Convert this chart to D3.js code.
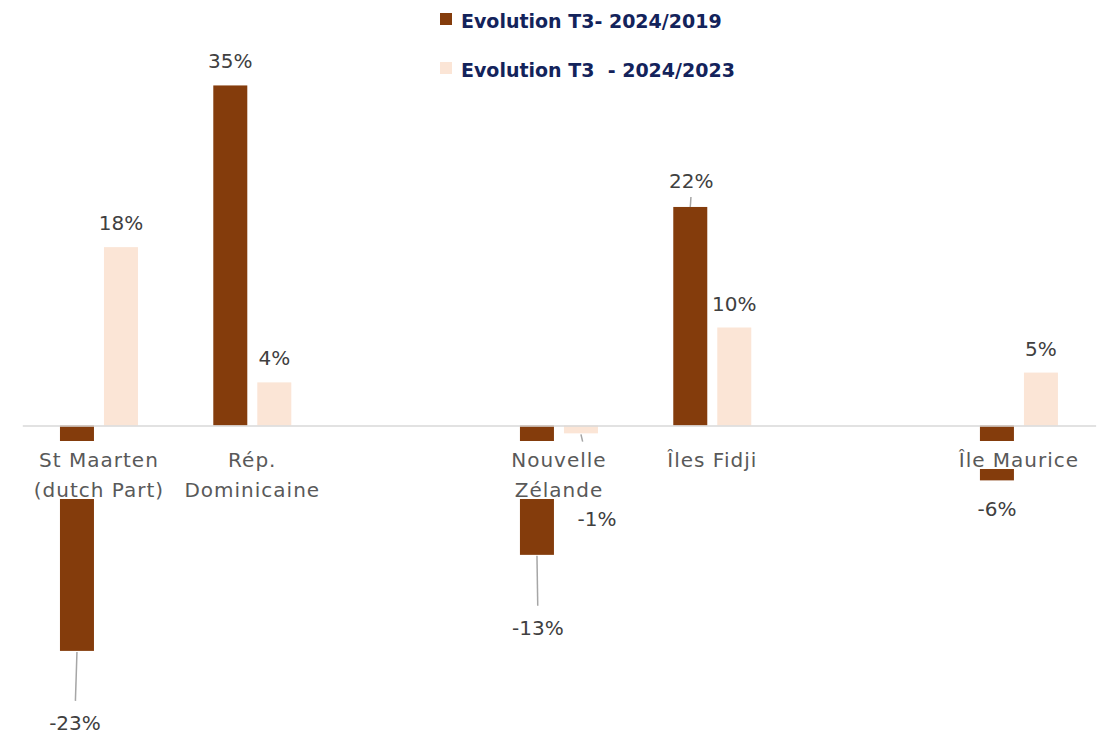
<!DOCTYPE html>
<html>
<head>
<meta charset="utf-8">
<script src="https://cdn.jsdelivr.net/npm/d3@7"></script>
<style>
  html, body { margin: 0; padding: 0; background: #ffffff; }
  svg { display: block; }
  text { font-family: "DejaVu Sans", sans-serif; }
</style>
</head>
<body>
<svg id="chart" width="1102" height="735"></svg>
<script>
// ---- data ----
const categories = ["St Maarten\n(dutch Part)", "Rép.\nDominicaine", "", "Nouvelle\nZélande", "Îles Fidji", "", "Île Maurice"];
const seriesNames = ["Evolution T3- 2024/2019", "Evolution T3  - 2024/2023"];
const evol2019 = [-23.0, 34.7, null, -13.2, 22.3, null, -5.6];
const evol2023 = [18.2, 4.4, null, -0.8, 10.0, null, 5.4];
const labelText2019 = ["-23%", "35%", "", "-13%", "22%", "", "-6%"];
const labelText2023 = ["18%", "4%", "", "-1%", "10%", "", "5%"];

// ---- layout / style config (not data) ----
const colors = ["#843C0C", "#FBE5D6"];
// manual label offsets [dx, dy] relative to default position, and leader lengths
const labelAdjust2019 = [[-2, 43, 50], [0, 0, 0], null, [1, 44, 51], [1, -2, 10], null, [0, 0, 0]];
const labelAdjust2023 = [[0, 0, 0], [0, 0, 0], null, [16, 57, 8.5], [0, 0, 0], null, [0, 0, 0]];

const svg = d3.select("#chart");

const x0 = d3.scaleBand().domain(d3.range(categories.length)).range([22.3, 1095.6]).padding(0);
const x1 = d3.scaleBand().domain([0, 1]).range([0, x0.bandwidth()]).paddingInner(10 / 44).paddingOuter(0.856);
const y = d3.scaleLinear().domain([-30, 40]).range([719.5, 33.5]);

const series = [
  { name: seriesNames[0], values: evol2019, labels: labelText2019, adjust: labelAdjust2019 },
  { name: seriesNames[1], values: evol2023, labels: labelText2023, adjust: labelAdjust2023 }
];

// bars
const gBars = svg.append("g");
series.forEach((s, si) => {
  gBars.selectAll(null)
    .data(s.values.map((v, i) => ({ v, i })).filter(d => d.v !== null))
    .join("rect")
    .attr("x", d => x0(d.i) + x1(si))
    .attr("width", x1.bandwidth())
    .attr("y", d => y(Math.max(0, d.v)))
    .attr("height", d => Math.abs(y(d.v) - y(0)))
    .attr("fill", colors[si]);
});

// axis (baseline)
const axis = d3.axisBottom(x0).tickSize(0).tickFormat("");
const gAxis = svg.append("g").attr("transform", `translate(0,${y(0)})`).call(axis);
gAxis.select(".domain").attr("stroke", "#D9D9D9").attr("stroke-width", 1.5);

// category labels with white background
const gCat = svg.append("g");
categories.forEach((c, i) => {
  if (!c) return;
  const lines = c.split("\n");
  const cx = x0(i) + x0.bandwidth() / 2;
  const g = gCat.append("g");
  const bg = g.append("rect").attr("fill", "#ffffff");
  const t = g.append("text")
    .attr("text-anchor", "middle")
    .attr("font-size", 20)
    .attr("letter-spacing", 1)
    .attr("fill", "#595959");
  lines.forEach((ln, li) => {
    t.append("tspan").attr("x", cx).attr("y", y(0) + 41.5 + li * 30).text(ln);
  });
  const bb = t.node().getBBox();
  bg.attr("x", bb.x - 2).attr("width", bb.width + 4)
    .attr("y", y(0) + 15.5).attr("height", 41.5 + (lines.length - 1) * 30 + 2 - 15.5);
});

// data labels and leader lines
const gLab = svg.append("g");
series.forEach((s, si) => {
  s.values.forEach((v, i) => {
    if (v === null) return;
    const adj = s.adjust[i];
    const bx = x0(i) + x1(si) + x1.bandwidth() / 2;
    const by = y(v);
    const lx = bx + adj[0];
    const ly = (v >= 0 ? by - 17 : by + 36) + adj[1];
    if (adj[2] > 0) {
      const ty = v >= 0 ? ly + 4 : ly - 15;
      const dx = lx - bx, dy = ty - by;
      const len = Math.sqrt(dx * dx + dy * dy);
      gLab.append("line")
        .attr("x1", bx).attr("y1", by + (v >= 0 ? 0 : 1))
        .attr("x2", bx + dx / len * adj[2]).attr("y2", by + dy / len * adj[2])
        .attr("stroke", "#A6A6A6").attr("stroke-width", 1.5);
    }
    gLab.append("text")
      .attr("x", lx).attr("y", ly)
      .attr("text-anchor", "middle")
      .attr("font-size", 20)
      .attr("fill", "#404040")
      .text(s.labels[i]);
  });
});

// legend
const gLeg = svg.append("g");
series.forEach((s, si) => {
  const ly = 13 + si * 49;
  gLeg.append("rect").attr("x", 440).attr("y", ly).attr("width", 12).attr("height", 12).attr("fill", colors[si]);
  gLeg.append("text")
    .attr("x", 461).attr("y", ly + 15)
    .attr("font-size", 19).attr("font-weight", "bold")
    .attr("fill", "#13235B")
    .style("white-space", "pre")
    .text(s.name);
});
</script>
</body>
</html>
